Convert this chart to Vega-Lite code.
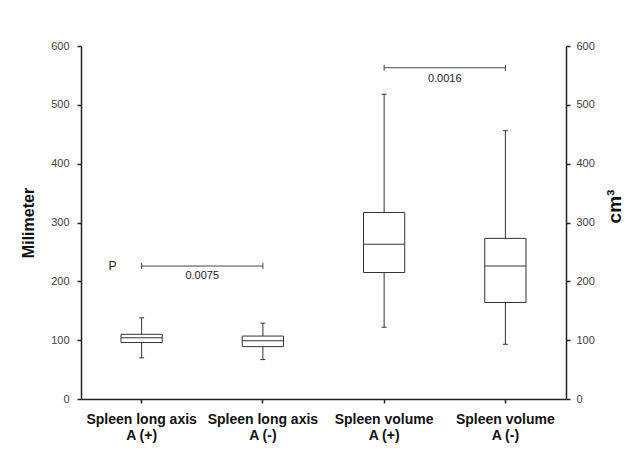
{
  "$schema": "https://vega.github.io/schema/vega-lite/v6.json",
  "width": 485,
  "height": 353,
  "autosize": "none",
  "padding": {"left": 81, "top": 46, "right": 70, "bottom": 68},
  "background": "white",
  "config": {
    "view": {"stroke": null},
    "axis": {"grid": false, "domainColor": "#222222", "tickColor": "#222222", "domainWidth": 1.5, "tickWidth": 1.5, "tickSize": 4, "labelFont": "Liberation Sans", "labelFontSize": 11, "labelColor": "#404040", "titleFont": "Liberation Sans", "titleColor": "#111111"}
  },
  "datasets": {
    "boxes": [
      {"cat": "Spleen long axis|A (+)", "lower": 70, "q1": 96, "median": 104, "q3": 110, "upper": 138},
      {"cat": "Spleen long axis|A (-)", "lower": 67, "q1": 89, "median": 99, "q3": 107, "upper": 129},
      {"cat": "Spleen volume|A  (+)", "lower": 122, "q1": 215, "median": 263, "q3": 317, "upper": 518},
      {"cat": "Spleen volume|A (-)", "lower": 93, "q1": 164, "median": 226, "q3": 273, "upper": 456}
    ],
    "sig": [
      {"cat": "Spleen long axis|A (+)", "cat2": "Spleen long axis|A (-)", "yv": 226},
      {"cat": "Spleen volume|A  (+)", "cat2": "Spleen volume|A (-)", "yv": 563}
    ],
    "sigEnds": [
      {"cat": "Spleen long axis|A (+)", "yv": 226},
      {"cat": "Spleen long axis|A (-)", "yv": 226},
      {"cat": "Spleen volume|A  (+)", "yv": 563},
      {"cat": "Spleen volume|A (-)", "yv": 563}
    ],
    "sigText": [
      {"cat": "Spleen long axis|A (+)", "yv": 209, "label": "0.0075"},
      {"cat": "Spleen volume|A  (+)", "yv": 544, "label": "0.0016"}
    ],
    "pText": [
      {"cat": "Spleen long axis|A (+)", "yv": 226, "label": "P"}
    ]
  },
  "encoding": {
    "x": {
      "field": "cat",
      "type": "nominal",
      "title": null,
      "scale": {"domain": ["Spleen long axis|A (+)", "Spleen long axis|A (-)", "Spleen volume|A  (+)", "Spleen volume|A (-)"], "paddingInner": 0, "paddingOuter": 0},
      "axis": {"labelExpr": "split(datum.value, '|')", "labelAngle": 0, "labelFontWeight": "bold", "labelFontSize": 14, "labelColor": "#111111", "labelPadding": 9, "labelLineHeight": 16, "labelBaseline": "top"}
    }
  },
  "layer": [
    {
      "data": {"name": "boxes"},
      "mark": {"type": "rule", "color": "#333333", "strokeWidth": 1},
      "encoding": {
        "y": {"field": "lower", "type": "quantitative", "scale": {"domain": [0, 600], "nice": false}, "axis": {"orient": "left", "title": "Milimeter", "titleFontSize": 16, "titleFontWeight": "bold", "titlePadding": 14, "values": [0, 100, 200, 300, 400, 500, 600], "labelPadding": 8}},
        "y2": {"field": "upper"}
      }
    },
    {
      "data": {"name": "boxes"},
      "mark": {"type": "bar", "fill": "white", "stroke": "#333333", "strokeWidth": 1, "width": {"band": 0.34}},
      "encoding": {
        "y": {"field": "q1", "type": "quantitative", "scale": {"domain": [0, 600], "nice": false}, "axis": {"orient": "right", "title": "cm³", "titleFontSize": 19, "titleFontWeight": "bold", "titleAngle": 270, "titleBaseline": "bottom", "titlePadding": 30, "titleY": 160, "titleAlign": "center", "values": [0, 100, 200, 300, 400, 500, 600], "labelPadding": 6}},
        "y2": {"field": "q3"}
      }
    },
    {
      "data": {"name": "boxes"},
      "mark": {"type": "tick", "color": "#333333", "opacity": 1, "thickness": 1, "size": 41, "orient": "horizontal"},
      "encoding": {
        "y": {"field": "median", "type": "quantitative", "scale": {"domain": [0, 600], "nice": false}, "axis": null}
      }
    },
    {
      "data": {"name": "boxes"},
      "transform": [{"fold": ["lower", "upper"], "as": ["kind", "val"]}],
      "mark": {"type": "tick", "color": "#333333", "opacity": 1, "thickness": 1, "size": 5, "orient": "horizontal"},
      "encoding": {
        "y": {"field": "val", "type": "quantitative", "scale": {"domain": [0, 600], "nice": false}, "axis": null}
      }
    },
    {
      "data": {"name": "sig"},
      "mark": {"type": "rule", "color": "#444444", "strokeWidth": 1},
      "encoding": {
        "x2": {"field": "cat2"},
        "y": {"field": "yv", "type": "quantitative", "scale": {"domain": [0, 600], "nice": false}, "axis": null}
      }
    },
    {
      "data": {"name": "sigEnds"},
      "mark": {"type": "tick", "color": "#444444", "opacity": 1, "thickness": 1, "size": 6, "orient": "vertical"},
      "encoding": {
        "y": {"field": "yv", "type": "quantitative", "scale": {"domain": [0, 600], "nice": false}, "axis": null}
      }
    },
    {
      "data": {"name": "sigText"},
      "mark": {"type": "text", "font": "Liberation Sans", "fontSize": 11, "color": "#222222", "baseline": "middle", "align": "center"},
      "encoding": {
        "x": {"field": "cat", "type": "nominal", "bandPosition": 1},
        "y": {"field": "yv", "type": "quantitative", "scale": {"domain": [0, 600], "nice": false}, "axis": null},
        "text": {"field": "label"}
      }
    },
    {
      "data": {"name": "pText"},
      "mark": {"type": "text", "font": "Liberation Sans", "fontSize": 12, "color": "#222222", "baseline": "middle", "align": "center"},
      "encoding": {
        "x": {"field": "cat", "type": "nominal", "bandPosition": 0.26},
        "y": {"field": "yv", "type": "quantitative", "scale": {"domain": [0, 600], "nice": false}, "axis": null},
        "text": {"field": "label"}
      }
    }
  ],
  "resolve": {"axis": {"y": "independent"}}
}
